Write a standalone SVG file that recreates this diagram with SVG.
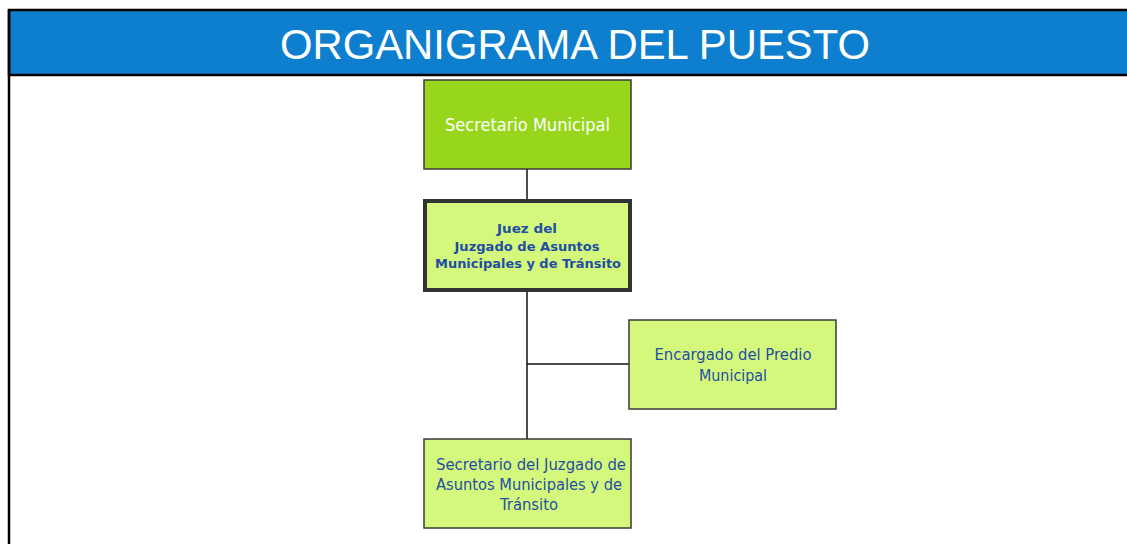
<svg xmlns="http://www.w3.org/2000/svg" width="1127" height="544" viewBox="0 0 1127 544">
<style>
.box{stroke:#3a3a3a;stroke-width:1.5}
.light{fill:#d3f87b}
.t{font-family:"DejaVu Sans","Liberation Sans",sans-serif;fill:#1f4ea3;text-anchor:middle}
.conn{stroke:#111;stroke-width:1.5;fill:none}
</style>
<rect width="1127" height="544" fill="#ffffff"/>
<g id="header">
<rect x="9" y="10" width="1125" height="65" fill="#0e7fcf" stroke="#000" stroke-width="2.5"/>
<line x1="9" y1="10" x2="9" y2="544" stroke="#000" stroke-width="2.5"/>
<text x="575" y="59" font-family="Liberation Sans, Arial, sans-serif" font-size="42" fill="#ffffff" text-anchor="middle" textLength="590" lengthAdjust="spacingAndGlyphs">ORGANIGRAMA DEL PUESTO</text>
</g>
<g id="connectors">
<line class="conn" x1="527" y1="169" x2="527" y2="200"/>
<line class="conn" x1="527" y1="291" x2="527" y2="439"/>
<line class="conn" x1="527" y1="364" x2="629" y2="364"/>
</g>
<g id="secretario-municipal">
<rect class="box" x="424" y="80" width="207" height="89" fill="#97d61a"/>
<text x="527.5" y="131" font-family="DejaVu Sans, sans-serif" font-size="18" fill="#ffffff" text-anchor="middle" textLength="165" lengthAdjust="spacingAndGlyphs">Secretario Municipal</text>
</g>
<g id="juez">
<rect x="425" y="201" width="205" height="89" class="light" stroke="#333" stroke-width="4"/>
<text class="t" font-weight="bold" font-size="13"><tspan x="527" y="233" textLength="60" lengthAdjust="spacingAndGlyphs">Juez del</tspan><tspan x="527" y="251" textLength="145" lengthAdjust="spacingAndGlyphs">Juzgado de Asuntos</tspan><tspan x="528" y="268" textLength="186" lengthAdjust="spacingAndGlyphs">Municipales y de Tránsito</tspan></text>
</g>
<g id="encargado">
<rect class="box light" x="629" y="320" width="207" height="89"/>
<text class="t" font-size="16"><tspan x="733" y="360" textLength="157" lengthAdjust="spacingAndGlyphs">Encargado del Predio</tspan><tspan x="733" y="381" textLength="68" lengthAdjust="spacingAndGlyphs">Municipal</tspan></text>
</g>
<g id="secretario-juzgado">
<rect class="box light" x="424" y="439" width="207" height="89"/>
<text class="t" font-size="16"><tspan x="531" y="470" textLength="190" lengthAdjust="spacingAndGlyphs">Secretario del Juzgado de</tspan><tspan x="529" y="490" textLength="186" lengthAdjust="spacingAndGlyphs">Asuntos Municipales y de</tspan><tspan x="529" y="510" textLength="58" lengthAdjust="spacingAndGlyphs">Tránsito</tspan></text>
</g>
</svg>
